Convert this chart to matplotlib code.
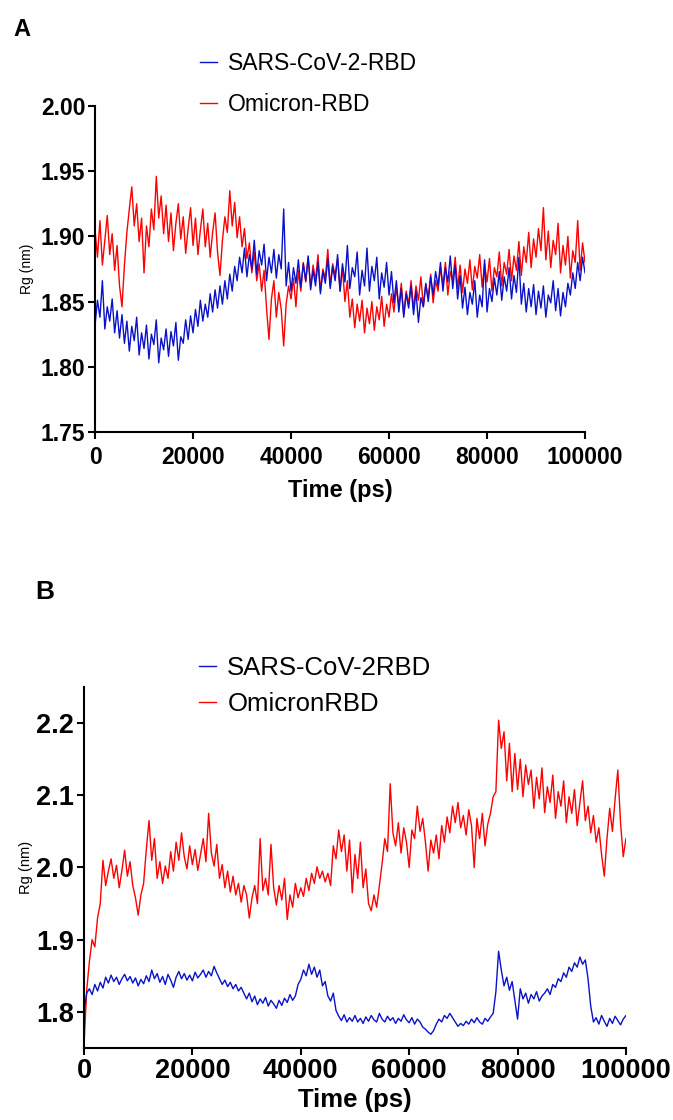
import matplotlib
matplotlib.use("Agg")
import matplotlib.pyplot as plt
import numpy as np

plt.rcParams["font.family"] = ["Liberation Sans", "DejaVu Sans"]

# sampling grid (ps), one value every 500 ps
TIME = np.arange(0, 100001, 500)

# Panel A - Rg (nm)
RG_A_SARS = [
    1.832, 1.851, 1.838, 1.866, 1.829, 1.846, 1.835, 1.852, 1.826, 1.843,
    1.822, 1.840, 1.818, 1.835, 1.812, 1.831, 1.820, 1.838, 1.809, 1.826,
    1.814, 1.832, 1.806, 1.825, 1.817, 1.836, 1.803, 1.822, 1.813, 1.829,
    1.808, 1.827, 1.816, 1.834, 1.805, 1.823, 1.818, 1.836, 1.821, 1.839,
    1.826, 1.844, 1.831, 1.851, 1.835, 1.848, 1.838, 1.856, 1.842, 1.859,
    1.845, 1.862, 1.848, 1.866, 1.852, 1.871, 1.858, 1.877, 1.866, 1.884,
    1.872, 1.891, 1.869, 1.886, 1.875, 1.897, 1.871, 1.889, 1.878, 1.894,
    1.866, 1.884, 1.872, 1.890, 1.868, 1.886, 1.875, 1.921, 1.862, 1.880,
    1.858, 1.876, 1.864, 1.882, 1.861, 1.879, 1.866, 1.885, 1.859, 1.874,
    1.862, 1.880, 1.856, 1.873, 1.864, 1.883, 1.860, 1.877, 1.866, 1.886,
    1.858, 1.879, 1.865, 1.893, 1.860, 1.876, 1.869, 1.888, 1.855, 1.874,
    1.862, 1.891, 1.858, 1.877, 1.866, 1.884, 1.852, 1.872, 1.861, 1.880,
    1.855, 1.873, 1.849, 1.866, 1.842, 1.860, 1.838, 1.856, 1.845, 1.862,
    1.840, 1.858, 1.834, 1.853, 1.846, 1.864, 1.850, 1.869, 1.855, 1.873,
    1.862, 1.880, 1.858, 1.876, 1.865, 1.885, 1.860, 1.878, 1.852, 1.870,
    1.845, 1.861, 1.840, 1.857, 1.848, 1.866, 1.838, 1.855, 1.846, 1.882,
    1.842, 1.860, 1.850, 1.868, 1.855, 1.873, 1.851, 1.869, 1.858, 1.876,
    1.852, 1.870, 1.857, 1.884, 1.848, 1.864, 1.842, 1.860, 1.846, 1.863,
    1.840, 1.858, 1.845, 1.862, 1.838, 1.855, 1.849, 1.866, 1.843, 1.860,
    1.839, 1.857, 1.846, 1.864, 1.855, 1.872, 1.860, 1.880, 1.866, 1.884,
    1.872,
]
RG_A_OMI = [
    1.905, 1.884, 1.912, 1.878, 1.897, 1.916, 1.886, 1.902, 1.874, 1.893,
    1.862, 1.846, 1.878, 1.903, 1.921, 1.938, 1.908, 1.925, 1.896, 1.914,
    1.872, 1.908, 1.892, 1.921, 1.905, 1.946, 1.914, 1.931, 1.902, 1.924,
    1.896, 1.918, 1.889, 1.910, 1.925, 1.898, 1.915, 1.887, 1.906, 1.922,
    1.893, 1.914, 1.886, 1.905, 1.921, 1.892, 1.910, 1.884, 1.903, 1.918,
    1.888, 1.870, 1.897, 1.915, 1.903, 1.935, 1.908, 1.926, 1.899, 1.915,
    1.892, 1.906, 1.883, 1.895, 1.872, 1.888, 1.866, 1.879, 1.858, 1.874,
    1.845, 1.821, 1.852, 1.866, 1.838, 1.857, 1.844, 1.816, 1.848, 1.862,
    1.852, 1.868, 1.846, 1.874, 1.858, 1.880, 1.865, 1.884, 1.861, 1.878,
    1.866, 1.886, 1.858, 1.875, 1.868, 1.890, 1.862, 1.879, 1.870, 1.883,
    1.858, 1.876, 1.850, 1.866, 1.838, 1.852, 1.830, 1.848, 1.835, 1.851,
    1.826, 1.845, 1.833, 1.850, 1.828, 1.846, 1.836, 1.854, 1.831, 1.848,
    1.838, 1.856, 1.842, 1.861, 1.846, 1.864, 1.840, 1.858, 1.848, 1.866,
    1.844, 1.862, 1.851, 1.869, 1.846, 1.863, 1.853, 1.871, 1.849, 1.866,
    1.858, 1.876, 1.862, 1.880, 1.855, 1.873, 1.866, 1.884, 1.860, 1.878,
    1.857, 1.875, 1.864, 1.882, 1.859, 1.877, 1.868, 1.886, 1.861, 1.879,
    1.865, 1.883, 1.858, 1.876, 1.869, 1.888, 1.862, 1.880, 1.871, 1.890,
    1.866, 1.885, 1.874, 1.896, 1.870, 1.892, 1.880, 1.903, 1.876, 1.898,
    1.884, 1.906, 1.889, 1.922, 1.882, 1.904, 1.876, 1.897, 1.886, 1.910,
    1.872, 1.893, 1.878, 1.900, 1.868, 1.889, 1.880, 1.912, 1.874, 1.895,
    1.880,
]

# Panel B - Rg (nm)
RG_B_SARS = [
    1.800, 1.826, 1.832, 1.824, 1.838, 1.829, 1.841, 1.833, 1.848, 1.840,
    1.851, 1.842, 1.848, 1.838, 1.846, 1.852, 1.843, 1.849, 1.840, 1.847,
    1.836, 1.845, 1.839, 1.850, 1.842, 1.858, 1.846, 1.853, 1.841, 1.849,
    1.838, 1.852, 1.844, 1.834, 1.848, 1.856, 1.846, 1.853, 1.844, 1.851,
    1.843, 1.855, 1.847, 1.852, 1.858, 1.848, 1.856, 1.850, 1.863, 1.854,
    1.846, 1.838, 1.844, 1.835, 1.841, 1.832, 1.838, 1.829, 1.834, 1.826,
    1.818, 1.826, 1.814, 1.822, 1.810, 1.818, 1.812, 1.820, 1.808, 1.816,
    1.811, 1.805, 1.816, 1.809, 1.819, 1.813, 1.824, 1.816, 1.822, 1.838,
    1.845, 1.858, 1.850, 1.866, 1.852, 1.862, 1.848, 1.858, 1.836, 1.842,
    1.822, 1.815, 1.826, 1.802, 1.794, 1.788, 1.796, 1.786, 1.792, 1.787,
    1.795, 1.786, 1.791, 1.784, 1.793, 1.787, 1.795, 1.789, 1.786, 1.798,
    1.790, 1.786, 1.794, 1.788, 1.792, 1.784, 1.791, 1.787, 1.796, 1.789,
    1.785, 1.792, 1.783, 1.790, 1.786, 1.779, 1.776, 1.772, 1.769, 1.774,
    1.783, 1.790, 1.786, 1.795, 1.791, 1.798, 1.792, 1.786, 1.780, 1.784,
    1.781, 1.787, 1.783, 1.790, 1.785, 1.792, 1.786, 1.783, 1.791, 1.787,
    1.793, 1.798, 1.828, 1.884, 1.858, 1.836, 1.848, 1.830, 1.842, 1.816,
    1.790, 1.832, 1.818, 1.826, 1.812, 1.824, 1.818, 1.828, 1.815, 1.822,
    1.826, 1.832, 1.824, 1.838, 1.834, 1.846, 1.842, 1.854, 1.848, 1.862,
    1.856, 1.868, 1.862, 1.876, 1.866, 1.872, 1.846, 1.808, 1.786, 1.792,
    1.783, 1.795, 1.787, 1.780, 1.791, 1.784, 1.794, 1.788, 1.782, 1.790,
    1.795,
]
RG_B_OMI = [
    1.755, 1.830, 1.870, 1.900, 1.890, 1.930, 1.950, 2.010, 1.975, 1.995,
    2.012, 1.985, 2.003, 1.972, 1.996, 2.024, 1.988, 2.008, 1.975, 1.958,
    1.934, 1.962, 1.978, 2.025, 2.065, 2.010, 2.040, 1.985, 2.008, 1.978,
    2.002, 1.985, 2.022, 1.995, 2.035, 2.010, 2.048, 2.015, 1.998, 2.030,
    2.004, 2.025, 1.996, 2.018, 2.040, 2.008, 2.075, 2.020, 2.002, 2.032,
    1.985, 2.004, 1.972, 1.995, 1.966, 1.988, 1.962, 1.978, 1.952, 1.975,
    1.962, 1.930, 1.958, 1.975, 1.950, 2.040, 1.968, 1.985, 1.962, 2.032,
    1.972, 1.948, 1.975, 1.955, 1.985, 1.928, 1.962, 1.945, 1.978, 1.958,
    1.972, 1.960, 1.985, 1.968, 1.992, 1.978, 2.001, 1.985, 1.995, 1.980,
    1.992, 1.975, 2.030, 2.012, 2.052, 2.022, 2.045, 1.995, 2.038, 1.965,
    2.018, 1.985, 2.035, 1.972, 1.998, 1.950, 1.940, 1.962, 1.945, 1.975,
    2.005, 2.040, 2.022, 2.116, 2.048, 2.030, 2.062, 2.020, 2.055, 2.035,
    2.000, 2.052, 2.040, 2.085, 2.050, 2.068, 2.035, 1.995, 2.038, 2.020,
    2.045, 2.012, 2.058, 2.035, 2.070, 2.048, 2.085, 2.062, 2.090, 2.055,
    2.072, 2.045, 2.080, 2.058, 2.000, 2.068, 2.040, 2.075, 2.030, 2.060,
    2.075, 2.098, 2.105, 2.204, 2.165, 2.188, 2.120, 2.172, 2.105, 2.158,
    2.108, 2.150, 2.098, 2.142, 2.115, 2.135, 2.082, 2.125, 2.095, 2.138,
    2.076, 2.112, 2.090, 2.128, 2.068, 2.105, 2.085, 2.120, 2.062, 2.098,
    2.075, 2.108, 2.058, 2.090, 2.120, 2.065, 2.085, 2.048, 2.072, 2.035,
    2.055, 2.018, 1.988, 2.040, 2.082, 2.050, 2.095, 2.135, 2.062, 2.015,
    2.040,
]

BLUE = "#0a12c8"
RED = "#ff0000"

fig = plt.figure(figsize=(6.73, 11.2), dpi=100)

ax_a = fig.add_axes([0.1412, 0.6143, 0.7281, 0.2911])
ax_b = fig.add_axes([0.1248, 0.0643, 0.8053, 0.3223])

# panel A
ax_a.plot(TIME, RG_A_OMI, color=RED, lw=1.0, label="Omicron-RBD")
ax_a.plot(TIME, RG_A_SARS, color=BLUE, lw=1.0, label="SARS-CoV-2-RBD")
ax_a.set_xlim(0, 100000)
ax_a.set_ylim(1.75, 2.00)
ax_a.set_xticks(range(0, 100001, 20000))
ax_a.set_yticks([1.75, 1.80, 1.85, 1.90, 1.95, 2.00])
ax_a.set_yticklabels([f"{v:.2f}" for v in ax_a.get_yticks()])
ax_a.set_xlabel("Time (ps)", fontsize=17, fontweight="bold", labelpad=7)
ax_a.set_ylabel("Rg (nm)", fontsize=10)
ax_a.yaxis.set_label_coords(-0.125, 0.5)
h, l = ax_a.get_legend_handles_labels()
ax_a.legend(h[::-1], l[::-1], loc="upper left",
            bbox_to_anchor=(200 / 673, 1 - 52 / 1120),
            bbox_transform=fig.transFigure, frameon=False, fontsize=16.5,
            handlelength=0.75, handletextpad=0.45, labelspacing=0.78,
            borderpad=0, borderaxespad=0)

# panel B
ax_b.plot(TIME, RG_B_OMI, color=RED, lw=1.0, label="OmicronRBD")
ax_b.plot(TIME, RG_B_SARS, color=BLUE, lw=1.0, label="SARS-CoV-2RBD")
ax_b.set_xlim(0, 100000)
ax_b.set_ylim(1.75, 2.25)
ax_b.set_xticks(range(0, 100001, 20000))
ax_b.set_yticks([1.8, 1.9, 2.0, 2.1, 2.2])
ax_b.set_yticklabels([f"{v:.1f}" for v in ax_b.get_yticks()])
ax_b.set_xlabel("Time (ps)", fontsize=18.5, fontweight="bold", labelpad=3)
ax_b.set_ylabel("Rg (nm)", fontsize=10.5)
ax_b.yaxis.set_label_coords(-0.094, 0.5)
h, l = ax_b.get_legend_handles_labels()
ax_b.legend(h[::-1], l[::-1], loc="upper left",
            bbox_to_anchor=(199 / 673, 1 - 656 / 1120),
            bbox_transform=fig.transFigure, frameon=False, fontsize=18.5,
            handlelength=0.65, handletextpad=0.45, labelspacing=0.47,
            borderpad=0, borderaxespad=0)

for ax, fs in [(ax_a, 16.5), (ax_b, 19.5)]:
    ax.spines["top"].set_visible(False)
    ax.spines["right"].set_visible(False)
    for s in ("left", "bottom"):
        ax.spines[s].set_linewidth(1.5)
    ax.tick_params(direction="out", length=5, width=1.5, pad=2)
    for lab in ax.get_xticklabels() + ax.get_yticklabels():
        lab.set_fontsize(fs)
        lab.set_fontweight("bold")
ax_a.tick_params(axis="x", pad=5)

fig.text(22 / 673, 1 - 30 / 1120, "A", fontsize=17, fontweight="bold",
         ha="center", va="center")
fig.text(45 / 673, 1 - 592 / 1120, "B", fontsize=19, fontweight="bold",
         ha="center", va="center")

fig.savefig("out.png", dpi=100)
